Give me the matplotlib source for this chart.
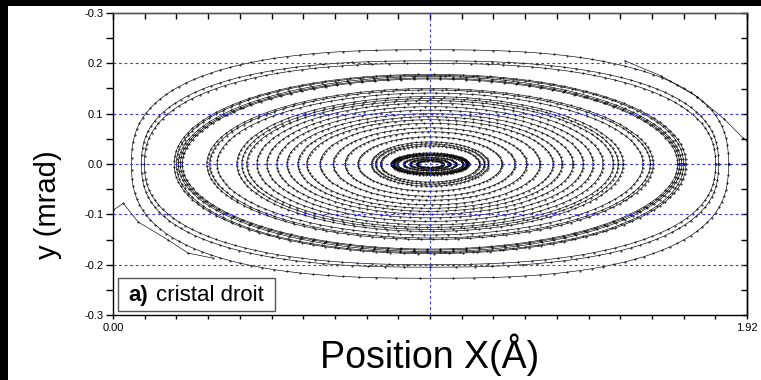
import numpy as np
import matplotlib
matplotlib.use('Agg')
import matplotlib.pyplot as plt
from matplotlib.patches import Rectangle

plt.rcParams['font.family'] = ['Liberation Sans', 'DejaVu Sans']

# phase-space orbits: centre, half widths (A), half heights (mrad)
x_center = 0.96
y_center = 0.0
ring_half_width = [0.904, 0.874, 0.865, 0.775, 0.768, 0.762, 0.756, 0.750,
                   0.676, 0.667, 0.645, 0.585, 0.570, 0.555, 0.524, 0.494,
                   0.464, 0.433, 0.400, 0.373, 0.333, 0.293, 0.257, 0.218,
                   0.177, 0.165, 0.150, 0.118, 0.114, 0.110, 0.100, 0.080, 0.060, 0.040]
ring_half_height = [0.227, 0.205, 0.200, 0.178, 0.176, 0.174, 0.171, 0.169,
                    0.150, 0.147, 0.141, 0.134, 0.130, 0.126, 0.121, 0.114,
                    0.107, 0.100, 0.094, 0.088, 0.081, 0.072, 0.064, 0.054,
                    0.044, 0.040, 0.036, 0.022, 0.020, 0.019, 0.017, 0.013, 0.010, 0.007]
ring_shape = [2.6, 2.5, 2.4, 2.1, 2.1, 2.0, 2.0, 2.0,
              2.0, 2.0, 2.0, 2.0, 2.0, 2.0, 2.0, 2.0,
              2.0, 2.0, 2.0, 2.0, 2.0, 2.0, 2.0, 2.0,
              2.0, 2.0, 2.0, 2.0, 2.0, 2.0, 2.0, 2.0, 2.0, 2.0]

# trajectory entering from the left wall and one leaving through the right wall
entry_x = [0.0, 0.031, 0.076, 0.167, 0.227, 0.303]
entry_y = [-0.092, -0.078, -0.115, -0.151, -0.177, -0.187]
exit_x = [1.55, 1.66, 1.768, 1.85, 1.909, 1.92]
exit_y = [0.205, 0.175, 0.134, 0.09, 0.051, 0.046]

xtick_pos = np.round(np.arange(0, 1.9201, 0.096), 3)
xtick_labels = ['0.00'] + [''] * (len(xtick_pos) - 2) + ['1.92']
ytick_pos = [-0.3, -0.2, -0.1, 0.0, 0.1, 0.2, 0.3]
ytick_labels = ['-0.3', '-0.2', '-0.1', '0.0', '0.1', '0.2', '-0.3']
grid_y = [-0.2, -0.1, 0.0, 0.1, 0.2]

fig = plt.figure(figsize=(7.61, 3.80), dpi=100)
ax = fig.add_axes([113 / 761, 1 - 315 / 380, 634 / 761, 302 / 380])

for a, b, n in zip(ring_half_width, ring_half_height, ring_shape):
    npts = int(60 + 80 * a)
    t = np.linspace(0, 2 * np.pi, npts)
    c, s = np.cos(t), np.sin(t)
    xs = x_center + a * np.sign(c) * np.abs(c) ** (2 / n)
    ys = y_center + b * np.sign(s) * np.abs(s) ** (2 / n)
    ax.plot(xs, ys, color='black', lw=0.45, marker='.', ms=0.9, zorder=2)

ax.plot(entry_x, entry_y, color='black', lw=0.45, marker='.', ms=0.9, zorder=2)
ax.plot(exit_x, exit_y, color='black', lw=0.45, marker='.', ms=0.9, zorder=2)

gridkw = dict(color='#3a3aff', lw=0.8, dashes=(2.5, 2.5), zorder=3)
for gy in grid_y:
    ax.axhline(gy, **gridkw)
ax.axvline(x_center, **gridkw)

ax.set_xlim(0, 1.92)
ax.set_ylim(-0.3, 0.3)
ax.set_xticks(xtick_pos)
ax.set_xticklabels(xtick_labels, fontsize=8)
ax.set_yticks(ytick_pos)
ax.set_yticklabels(ytick_labels, fontsize=8)
ax.set_yticks(np.arange(-0.25, 0.3, 0.1), minor=True)
ax.tick_params(axis='x', direction='out', length=3, width=1, pad=3)
ax.tick_params(axis='y', which='both', direction='out', length=5, width=1, pad=2)

top = ax.secondary_xaxis('top')
top.set_xticks(xtick_pos)
top.tick_params(direction='in', length=4, width=1, labeltop=False)
right = ax.secondary_yaxis('right')
right.set_yticks(np.arange(-0.3, 0.301, 0.05))
right.tick_params(direction='in', length=4, width=1, labelright=False)
for sp in list(ax.spines.values()) + list(top.spines.values()) + list(right.spines.values()):
    sp.set_linewidth(1)
ax.spines['top'].set_color('#555555')
top.spines['top'].set_color('#555555')

ax.set_xlabel('Position X(Å)', fontsize=27, labelpad=0)
ax.set_ylabel('y (mrad)', fontsize=21)
ax.yaxis.set_label_coords(-0.080, 0.364)

ax.add_patch(Rectangle((0.008, 0.013), 0.248, 0.11, transform=ax.transAxes,
                       facecolor='white', edgecolor='#555555', lw=1, zorder=5))
ax.text(0.025, 0.066, 'a)', transform=ax.transAxes, fontsize=16,
        fontweight='bold', va='center', zorder=6)
ax.text(0.0678, 0.066, 'cristal droit', transform=ax.transAxes, fontsize=16,
        va='center', zorder=6)

# black frame left over from the original screenshot
fig.patches.append(Rectangle((0, 0), 8 / 761, 1, transform=fig.transFigure,
                             facecolor='black', edgecolor='none'))
fig.patches.append(Rectangle((0, 1 - 6 / 380), 1, 6 / 380, transform=fig.transFigure,
                             facecolor='black', edgecolor='none'))

fig.savefig('out.png', dpi=100)
